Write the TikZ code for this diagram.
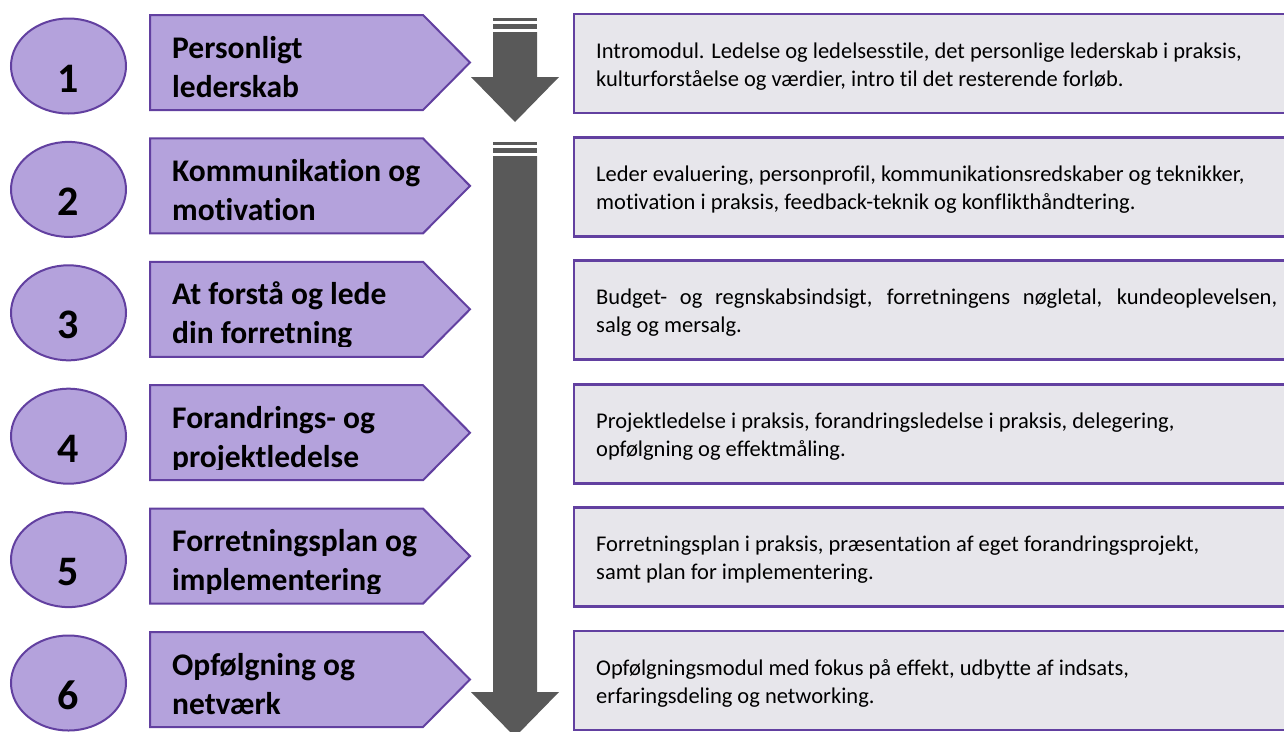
\documentclass[tikz,border=0pt]{standalone}
\usepackage{fontspec}
\setmainfont[Ligatures={NoCommon}]{Carlito}
\usetikzlibrary{shapes.geometric}
\definecolor{pfill}{RGB}{180,162,220}
\definecolor{pline}{RGB}{98,64,160}
\definecolor{bfill}{RGB}{231,230,235}
\definecolor{agray}{RGB}{89,89,89}
\newcommand{\modrow}[5]{%
  \pgfmathsetmacro{\oy}{123.4*(#1-1)}
  \node[circ] (c#1) at (68.5, 66+\oy) {};
  \node[numtxt] (n#1) at (68.5, 92+\oy) {#1};
  \draw[penta] (150,15+\oy) -- (423,15+\oy) -- (470,62.5+\oy) -- (423,110+\oy) -- (150,110+\oy) -- cycle;
  \begin{scope}
    \clip (150,15+\oy) rectangle (470,99.5+\oy);
    \node[titletxt] (t#1a) at (172, 58+\oy) {#2};
    \node[titletxt] (t#1b) at (172, 97+\oy) {#3};
  \end{scope}
  \draw[descbox] (574,14+\oy) rectangle (1300,113+\oy);
  \node[desctxt] (d#1a) at (596, 58+\oy) {#4};
  \node[desctxt] (d#1b) at (596, 86+\oy) {#5};
}
\begin{document}
\begin{tikzpicture}[x=1pt,y=-1pt,
  circ/.style={ellipse, draw=pline, line width=2pt, fill=pfill, minimum width=115pt, minimum height=95pt, inner sep=0pt},
  penta/.style={draw=pline, line width=2pt, fill=pfill, line join=miter},
  descbox/.style={draw=pline, line width=2.8pt, fill=bfill},
  numtxt/.style={font=\fontsize{42}{46}\selectfont\bfseries, anchor=base, inner sep=0pt},
  titletxt/.style={font=\fontsize{31.5}{36}\selectfont\bfseries, anchor=base west, inner sep=0pt},
  desctxt/.style={font=\fontsize{22.5}{26}\selectfont, anchor=base west, inner sep=0pt},
  arrowgray/.style={fill=agray, draw=none}]
\clip (0,0) rectangle (1284,731);
\fill[white] (0,0) rectangle (1284,731);
% arrows
\fill[arrowgray] (493,18) rectangle (537,21);
\fill[arrowgray] (493,24) rectangle (537,29);
\fill[arrowgray] (493,32) -- (537,32) -- (537,77) -- (559,77) -- (515,122) -- (471,77) -- (493,77) -- cycle;
\fill[arrowgray] (493,142) rectangle (537,145);
\fill[arrowgray] (493,148) rectangle (537,153);
\fill[arrowgray] (493,156) -- (537,156) -- (537,692) -- (559,692) -- (515,737) -- (471,692) -- (493,692) -- cycle;
\modrow{1}{Personligt}{lederskab}{Intromodul. Ledelse og ledelsesstile, det personlige lederskab i praksis,}{kulturforståelse og værdier, intro til det resterende forløb.}
\modrow{2}{Kommunikation og}{motivation}{Leder evaluering, personprofil, kommunikationsredskaber og teknikker,}{motivation i praksis, feedback-teknik og konflikthåndtering.}
\modrow{3}{At forstå og lede}{din forretning}{\makebox[681pt][s]{Budget- og regnskabsindsigt, forretningens nøgletal, kundeoplevelsen,}}{salg og mersalg.}
\modrow{4}{Forandrings- og}{projektledelse}{Projektledelse i praksis, forandringsledelse i praksis, delegering,}{opfølgning og effektmåling.}
\modrow{5}{Forretningsplan og}{implementering}{Forretningsplan i praksis, præsentation af eget forandringsprojekt,}{samt plan for implementering.}
\modrow{6}{Opfølgning og}{netværk}{Opfølgningsmodul med fokus på effekt, udbytte af indsats,}{erfaringsdeling og networking.}
\end{tikzpicture}
\end{document}
